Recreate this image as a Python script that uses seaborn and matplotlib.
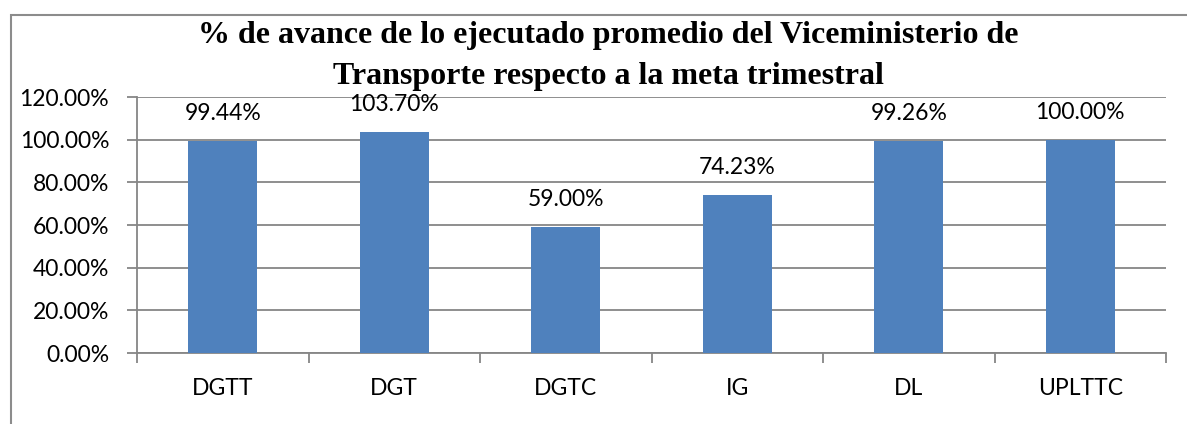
import matplotlib
matplotlib.use("Agg")
import matplotlib.pyplot as plt
import seaborn as sns
import pandas as pd
import numpy as np
from matplotlib.patches import Rectangle
from matplotlib.ticker import FixedLocator, FuncFormatter

categories = ["DGTT", "DGT", "DGTC", "IG", "DL", "UPLTTC"]
values = [99.44, 103.70, 59.00, 74.23, 99.26, 100.00]
title_lines = ["% de avance de lo ejecutado promedio del Viceministerio de",
               "Transporte respecto a la meta trimestral"]
yticks = [0, 20, 40, 60, 80, 100, 120]

sns.set_theme(style="white")
plt.rcParams['font.family'] = ['Lato', 'DejaVu Sans']
plt.rcParams['text.color'] = 'black'
plt.rcParams['xtick.color'] = 'black'
plt.rcParams['ytick.color'] = 'black'

df = pd.DataFrame({"cat": categories, "val": values})

W, H = 1187, 424
fig = plt.figure(figsize=(W / 100, H / 100), dpi=100)
ax = fig.add_axes([137 / W, 1 - 353 / H, (1166 - 137) / W, (353 - 97) / H])

sns.barplot(data=df, x="cat", y="val", color="#4F81BD", width=0.4, ax=ax,
            saturation=1, zorder=3, linewidth=0)

grid_c = "#868686"
fs = 16.5
ax.set_ylim(0, 120)
ax.set_xlim(-0.5, len(categories) - 0.5)
ax.set_yticks(yticks)
ax.yaxis.set_major_formatter(FuncFormatter(lambda v, p: f"{v:.2f}%"))
for y in yticks:
    ax.axhline(y, color=grid_c, lw=1.3, zorder=1)

ax.set_xlabel("")
ax.set_ylabel("")
ax.tick_params(axis="y", which="major", direction="out", length=7, width=1.3,
               color=grid_c, labelcolor="black", labelsize=fs, pad=13, left=True)
ax.tick_params(axis="x", which="major", length=0, labelsize=fs, pad=18,
               labelcolor="black")
ax.xaxis.set_minor_locator(FixedLocator(np.arange(-0.5, len(categories), 1.0)))
ax.tick_params(axis="x", which="minor", direction="out", length=7, width=1.3,
               color=grid_c, bottom=True)
for s in ["top", "right"]:
    ax.spines[s].set_visible(False)
for s in ["left", "bottom"]:
    ax.spines[s].set_color(grid_c)
    ax.spines[s].set_linewidth(1.3)

for i, v in enumerate(values):
    ax.annotate(f"{v:.2f}%", (i, v), xytext=(0, 15), textcoords="offset points",
                ha="center", va="baseline", fontsize=fs, color="black")

for k, (line, yb) in enumerate(zip(title_lines, [43, 84])):
    fig.text(608 / W, 1 - yb / H, line, ha="center", va="baseline",
             fontsize=23, fontweight="bold", color="black",
             family=["Liberation Serif", "DejaVu Serif"])

fig.patches.append(Rectangle((11 / W, -0.1), 1.2, 1.1 - 15 / H,
                             transform=fig.transFigure, fill=False,
                             edgecolor="#8c8c8c", lw=1.5))

fig.savefig("out.png", dpi=100)
